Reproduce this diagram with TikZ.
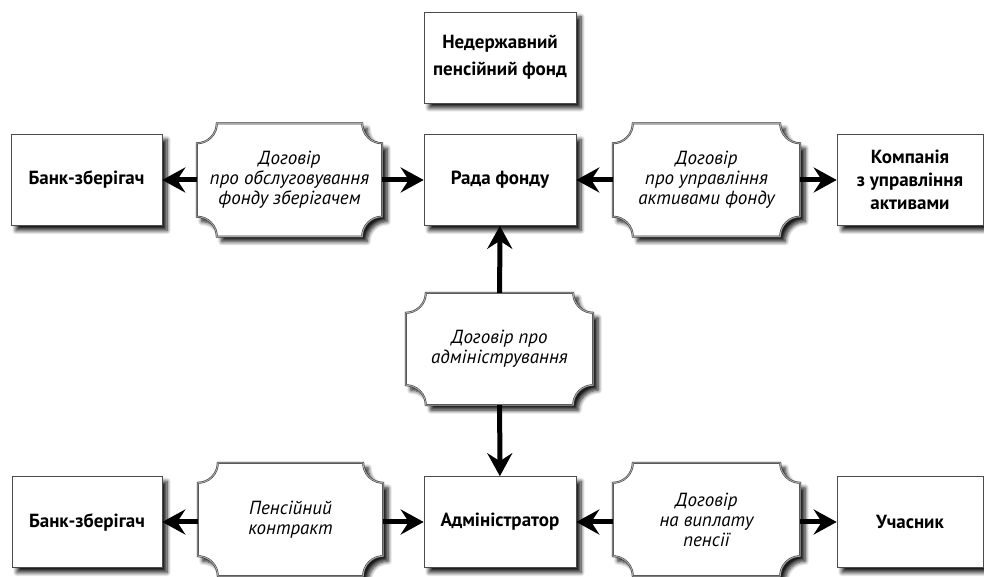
\documentclass[tikz,border=0pt]{standalone}
\usepackage{fontspec}
\setmainfont{PT Sans}
\usetikzlibrary{arrows.meta,shadows.blur,backgrounds}
\tikzset{
  myshadow/.style={blur shadow={shadow xshift=5pt, shadow yshift=-5pt, shadow blur radius=4pt, shadow blur steps=8, shadow opacity=90}},
  box/.style={draw=black!70, line width=0.6pt, fill=white, minimum width=152pt, minimum height=91pt,
    align=center, inner sep=0pt, font=\bfseries\fontsize{19}{23}\selectfont, myshadow},
  contract/.style={minimum width=187pt, minimum height=113pt, align=center, inner sep=0pt,
    font=\itshape\fontsize{19}{20}\selectfont},
  cshape/.style={draw=black!80, line width=0.5pt, double=black!35, double distance=1pt, fill=white, myshadow},
  arr/.style={line width=5pt, -{Stealth[length=23pt,width=25pt,inset=8pt]}}
}
\newcommand\drawcontract[1]{%
  \path[cshape] ([xshift=20pt]#1.north west) -- ([xshift=-20pt]#1.north east)
    arc[start angle=180,end angle=270,radius=20pt] -- ([yshift=20pt]#1.south east)
    arc[start angle=90,end angle=180,radius=20pt] -- ([xshift=20pt]#1.south west)
    arc[start angle=0,end angle=90,radius=20pt] -- ([yshift=-20pt]#1.north west)
    arc[start angle=270,end angle=360,radius=20pt] -- cycle;}
\begin{document}
\begin{tikzpicture}[x=1pt,y=1pt]
\useasboundingbox (0,0) rectangle (984,577);
% boxes
\node[box, font=\bfseries\fontsize{19}{27}\selectfont] (npf) at (500,519.5) {Недержавний\\пенсійний фонд};
\node[box] (rada) at (500,397) {Рада фонду};
\node[box, minimum width=151pt] (bank1) at (86.5,397) {Банк-зберігач};
\node[box, minimum width=146pt] (comp) at (910,397) {Компанія\\з управління\\активами};
\node[box] (adm) at (500,55) {Адміністратор};
\node[box, minimum width=150pt] (bank2) at (87,55) {Банк-зберігач};
\node[box, minimum width=146pt] (uch) at (910,55) {Учасник};
% contracts
\node[contract, minimum width=185pt] (c1) at (289.5,397) {Договір\\про обслуговування\\фонду зберігачем};
\node[contract] (c2) at (706.5,397) {Договір\\про управління\\активами фонду};
\node[contract, minimum height=112pt] (c3) at (499.5,228) {Договір про\\адміністрування};
\node[contract, minimum width=185pt] (c4) at (290.5,57.5) {Пенсійний\\контракт};
\node[contract] (c5) at (706.5,57.5) {Договір\\на виплату\\пенсії};
\begin{scope}[on background layer]
\drawcontract{c1}
\drawcontract{c2}
\drawcontract{c3}
\drawcontract{c4}
\drawcontract{c5}
\end{scope}
% arrows
\draw[arr] (c1) -- (bank1);
\draw[arr] (c1) -- (rada);
\draw[arr] (c2) -- (rada);
\draw[arr] (c2) -- (comp);
\draw[arr] (c3) -- (rada);
\draw[arr] (c3) -- (adm);
\draw[arr] (c4.west |- bank2.east) -- (bank2.east);
\draw[arr] (c4.east |- adm.west) -- (adm.west);
\draw[arr] (c5.west |- adm.east) -- (adm.east);
\draw[arr] (c5.east |- uch.west) -- (uch.west);
\end{tikzpicture}
\end{document}
